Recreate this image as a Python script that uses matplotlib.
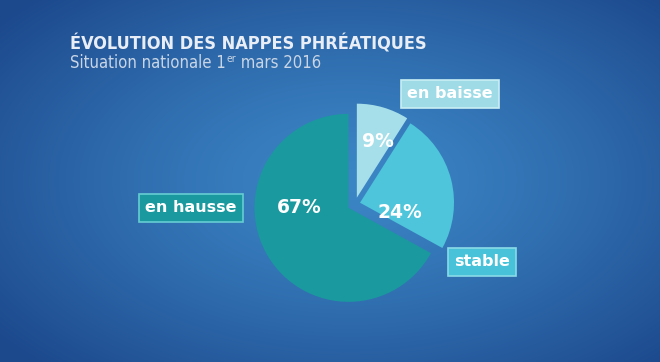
import numpy as np
import matplotlib
matplotlib.use('Agg')
import matplotlib.pyplot as plt

W, H = 660, 362

# données
categories = ['en baisse', 'stable', 'en hausse']
shares = [9, 24, 67]
title = 'ÉVOLUTION DES NAPPES PHRÉATIQUES'
subtitle = ['Situation nationale 1', 'er', ' mars 2016']

# styles
colors = ['#a6dfe9', '#4ec5da', '#1a999f']
box_faces = ['#9fdbe6', '#48c2d8', '#1a999f']
box_edges = ['#c8eef4', '#8adbe8', '#66cdd2']
explode = [0.07, 0.055, 0.08]
label_pos = [(450, 94), (482, 262), (191, 208)]
pct_pos = [(0.22, 0.60), (0.42, -0.10), (-0.52, 0.0)]
narrow = ['Liberation Sans Narrow', 'DejaVu Sans']

fig = plt.figure(figsize=(W / 100, H / 100), dpi=100)

# fond degrade bleu
bg = fig.add_axes([0, 0, 1, 1])
yy, xx = np.mgrid[0:H, 0:W]
d = np.sqrt(((xx - 350) / 450.0) ** 2 + ((yy - 180) / 260.0) ** 2)
d = np.clip(d, 0, 1) ** 1.3
c0 = np.array([0x3c, 0x86, 0xc6]) / 255
c1 = np.array([0x1c, 0x48, 0x8c]) / 255
img = c0 * (1 - d[..., None]) + c1 * d[..., None]
bg.imshow(img, aspect='auto', extent=[0, W, H, 0])
bg.set_xlim(0, W)
bg.set_ylim(H, 0)
bg.axis('off')

# camembert
R = 94
cx, cy = 355, 204
lim = 1.35
size = 2 * lim * R
ax = fig.add_axes([(cx - size / 2) / W, 1 - (cy + size / 2) / H, size / W, size / H])
wedges, texts, pcts = ax.pie(shares, colors=colors, explode=explode, startangle=90,
                             counterclock=False, autopct='%d%%', pctdistance=0.6,
                             textprops=dict(color='white', fontsize=13.5, fontweight='bold'))
for t, w, (px, py) in zip(pcts, wedges, pct_pos):
    ox, oy = w.center
    t.set_position((ox + px, oy + py))
ax.set_xlim(-lim, lim)
ax.set_ylim(-lim, lim)
ax.axis('off')

# etiquettes
for lab, (x, y), fc, ec in zip(categories, label_pos, box_faces, box_edges):
    bg.text(x, y, lab, ha='center', va='center', color='white', fontsize=11.5,
            fontweight='bold',
            bbox=dict(boxstyle='square,pad=0.38', fc=fc, ec=ec, lw=1.2))

# titre
bg.text(70, 44, title, color='#e9eef6', fontsize=13, fontweight='bold',
        fontstretch='condensed', va='center', family=narrow)

fig.canvas.draw()
r = fig.canvas.get_renderer()
sub = dict(color='#c9d5e5', va='center', family=narrow, fontstretch='condensed')
t1 = bg.text(70, 63, subtitle[0], fontsize=12, **sub)
ext = t1.get_window_extent(r)
x1 = bg.transData.inverted().transform((ext.x1, 0))[0]
t2 = bg.text(x1 + 1, 58.5, subtitle[1], fontsize=7.5, **sub)
ext2 = t2.get_window_extent(r)
x2 = bg.transData.inverted().transform((ext2.x1, 0))[0]
bg.text(x2, 63, subtitle[2], fontsize=12, **sub)

fig.savefig('out.png', dpi=100)
